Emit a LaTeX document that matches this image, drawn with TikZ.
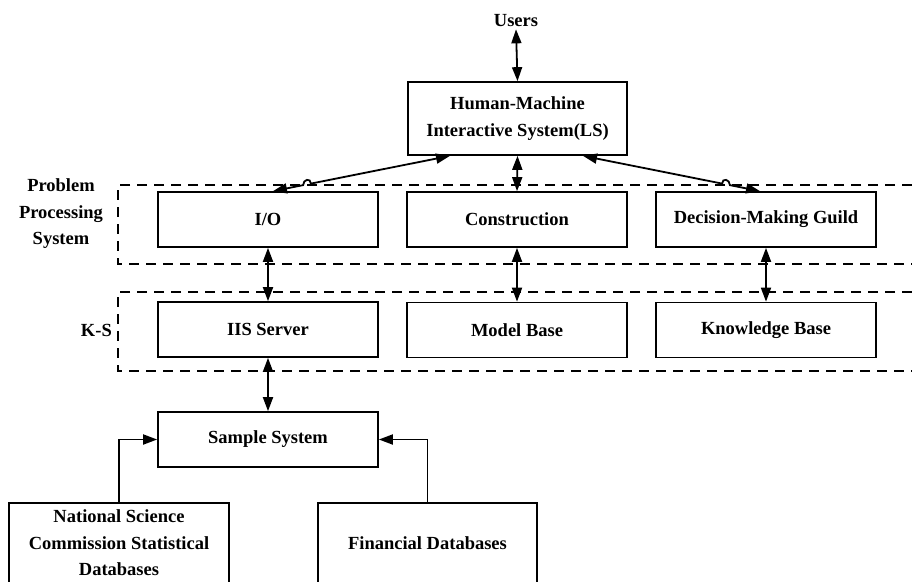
\documentclass[tikz,border=0pt]{standalone}
\usepackage{fontspec}
\setmainfont{Liberation Serif}
\usetikzlibrary{arrows.meta,calc}
\begin{document}
\begin{tikzpicture}[x=1pt,y=-1pt,
  every node/.style={font=\fontsize{18.5}{26.5}\selectfont\bfseries},
  box/.style={draw,line width=1.7pt,minimum width=220pt,minimum height=55pt,inner sep=0pt,align=center},
  dbox/.style={draw,line width=2.1pt,dash pattern=on 10pt off 7pt},
  conn/.style={line width=1.8pt},
  tip/.style={-{Triangle[length=14pt,width=10pt]}},
  dtip/.style={{Triangle[length=14pt,width=10pt]}-{Triangle[length=14pt,width=10pt]}}]
\useasboundingbox (0,0) rectangle (912,581);
% dashed groups
\draw[dbox] (912,185) -- (118,185) -- (118,264) -- (912,264);
\draw[dbox] (912,292) -- (118,292) -- (118,371) -- (912,371);
% labels
\node[align=center] (pps) at (61,214) {Problem\\Processing\\System};
\node[anchor=east,inner sep=0pt] (ks) at (112,330) {K-S};
% nodes
\node[inner sep=2pt] (users) at (516,21) {Users};
\node[box,minimum width=219pt,minimum height=73pt] (hmis) at (517.5,118.5) {Human-Machine\\Interactive System(LS)};
\node[box] (io) at (268,219.5) {I/O};
\node[box] (cons) at (517,219.5) {Construction};
\node[box] (dec) at (766,219.5) {Decision-Making Guild};
\node[box] (iis) at (268,329.5) {IIS Server};
\node[box] (model) at (517,330) {Model Base};
\node[box] (know) at (766,330) {Knowledge Base};
\node[box] (sample) at (268,439.5) {Sample System};
\node[box,minimum height=80pt] (nat) at (119,543) {National Science\\Commission Statistical\\Databases};
\node[box,minimum width=219pt,minimum height=80pt] (fin) at (427.5,543) {Financial Databases};
% connectors
\draw[conn,dtip] (users.south) -- (hmis.north);
\draw[conn,dtip] (hmis.south) -- (cons.north);
\coordinate (la) at ([xshift=-67.5pt]hmis.south);
\coordinate (lb) at ([xshift=5pt]io.north);
\coordinate (ra) at ([xshift=65.5pt]hmis.south);
\coordinate (rb) at ([xshift=-6pt]dec.north);
\draw[conn,dtip] (la) -- ($(la)!0.786!(lb)$) .. controls +(0,-6) and +(0,-6) .. ($(la)!0.830!(lb)$) -- (lb);
\draw[conn,dtip] (ra) -- ($(ra)!0.786!(rb)$) .. controls +(0,-6) and +(0,-6) .. ($(ra)!0.830!(rb)$) -- (rb);
\draw[conn,dtip] (io.south) -- (iis.north);
\draw[conn,dtip] (cons.south) -- (model.north);
\draw[conn,dtip] (dec.south) -- (know.north);
\draw[conn,dtip] (iis.south) -- (sample.north);
\draw[conn,tip] (nat.north) |- (sample.west);
\draw[conn,tip] (fin.north) |- (sample.east);
\end{tikzpicture}
\end{document}
